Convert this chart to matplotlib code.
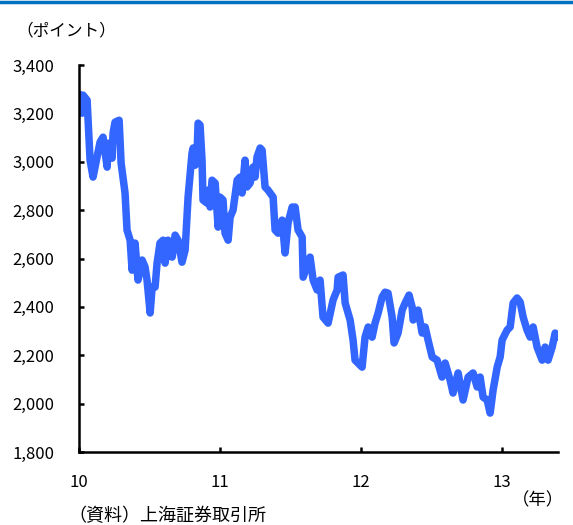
import matplotlib
matplotlib.use("Agg")
import matplotlib.pyplot as plt
from matplotlib.lines import Line2D

plt.rcParams["font.family"] = ["Noto Sans CJK JP", "DejaVu Sans"]

# 上海総合指数（週次の目安値）、横軸は年（10 = 2010年初）
t = [10.000, 10.021, 10.028, 10.057, 10.064, 10.078, 10.099, 10.128, 10.149, 10.170,
     10.199, 10.206, 10.234, 10.241, 10.255, 10.284, 10.298, 10.326, 10.340, 10.362,
     10.376, 10.397, 10.418, 10.447, 10.468, 10.482, 10.504, 10.518, 10.539, 10.553,
     10.574, 10.596, 10.610, 10.631, 10.660, 10.681, 10.702, 10.730, 10.752, 10.773,
     10.801, 10.809, 10.823, 10.837, 10.844, 10.858, 10.872, 10.879, 10.908, 10.915,
     10.929, 10.943, 10.965, 10.986, 11.000, 11.021, 11.035, 11.057, 11.071, 11.092,
     11.121, 11.142, 11.156, 11.177, 11.191, 11.213, 11.234, 11.248, 11.262, 11.284,
     11.298, 11.319, 11.340, 11.355, 11.376, 11.390, 11.411, 11.440, 11.461, 11.482,
     11.511, 11.532, 11.553, 11.582, 11.589, 11.638, 11.660, 11.688, 11.709, 11.730,
     11.766, 11.801, 11.830, 11.837, 11.872, 11.887, 11.922, 11.943, 11.957, 12.007,
     12.028, 12.050, 12.078, 12.099, 12.121, 12.149, 12.170, 12.191, 12.220, 12.234,
     12.262, 12.291, 12.312, 12.340, 12.362, 12.369, 12.404, 12.433, 12.454, 12.475,
     12.504, 12.539, 12.574, 12.596, 12.631, 12.652, 12.688, 12.723, 12.759, 12.794,
     12.823, 12.844, 12.865, 12.894, 12.915, 12.936, 12.965, 12.986, 13.000, 13.035,
     13.057, 13.078, 13.106, 13.128, 13.149, 13.177, 13.199, 13.220, 13.248, 13.284,
     13.305, 13.326, 13.355, 13.376, 13.390]
index = [3280, 3201, 3276, 3255, 3172, 3007, 2937, 3020, 3082, 3102,
         2978, 3077, 3015, 3119, 3164, 3172, 2995, 2871, 2718, 2676,
         2552, 2664, 2511, 2594, 2565, 2511, 2375, 2482, 2482, 2581,
         2664, 2676, 2581, 2676, 2606, 2697, 2676, 2585, 2635, 2854,
         3036, 3057, 2986, 3040, 3160, 3152, 3007, 2842, 2829, 2883,
         2813, 2924, 2912, 2730, 2854, 2842, 2705, 2676, 2771, 2800,
         2924, 2937, 2871, 3007, 2896, 2912, 2978, 2937, 3020, 3057,
         3048, 2896, 2883, 2871, 2854, 2718, 2705, 2759, 2623, 2747,
         2813, 2813, 2718, 2689, 2523, 2606, 2511, 2470, 2511, 2358,
         2333, 2428, 2470, 2523, 2532, 2416, 2346, 2263, 2180, 2151,
         2275, 2317, 2275, 2333, 2375, 2441, 2461, 2457, 2358, 2251,
         2292, 2387, 2416, 2449, 2399, 2346, 2387, 2292, 2317, 2263,
         2193, 2180, 2110, 2168, 2098, 2044, 2127, 2015, 2110, 2127,
         2069, 2110, 2027, 2015, 1961, 2056, 2151, 2193, 2263, 2304,
         2317, 2416, 2437, 2420, 2358, 2304, 2275, 2317, 2234, 2180,
         2234, 2180, 2234, 2292, 2275]

y_ticks = [1800, 2000, 2200, 2400, 2600, 2800, 3000, 3200, 3400]
x_ticks = [10, 11, 12, 13]

fig = plt.figure(figsize=(5.73, 5.25), dpi=100)
ax = fig.add_axes([0.138, 0.139, 0.836, 0.737])

ax.plot(t, index, color="#3366FF", lw=5.4,
        solid_joinstyle="round", solid_capstyle="round")

ax.set_xlim(10, 13.397)
ax.set_ylim(1800, 3400)
ax.set_yticks(y_ticks)
ax.set_yticklabels([f"{v:,}" for v in y_ticks])
ax.set_xticks(x_ticks)
ax.set_xticklabels([str(v) for v in x_ticks])

for side in ("top", "right"):
    ax.spines[side].set_visible(False)
for side in ("left", "bottom"):
    ax.spines[side].set_linewidth(1.8)
ax.tick_params(axis="both", direction="in", length=3.5, width=1.8,
               labelsize=12, colors="black")
ax.tick_params(axis="y", pad=18)
ax.tick_params(axis="x", pad=16)

fig.text(16 / 573, 1 - 31 / 525, "（ポイント）", fontsize=12, va="center", ha="left")
fig.text(564 / 573, 1 - 500 / 525, "（年）", fontsize=12.5, va="center", ha="right")
fig.text(68 / 573, 1 - 516 / 525, "（資料）上海証券取引所", fontsize=13, va="center", ha="left")

# 上端の青い罫線
fig.add_artist(Line2D([0, 1], [0.997, 0.997], transform=fig.transFigure,
                      color="#0070C0", lw=2.5))

fig.savefig("out.png", dpi=100)
